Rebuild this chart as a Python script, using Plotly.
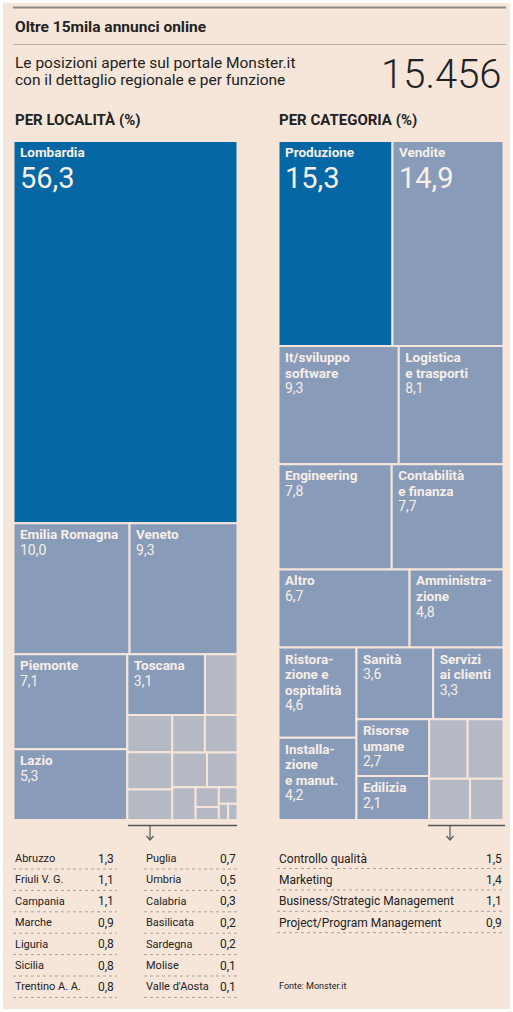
import plotly.graph_objects as go

W, H = 513, 1012

# ---------------- data ----------------
regions = ["Lombardia", "Emilia Romagna", "Veneto", "Piemonte", "Lazio", "Toscana",
           "Abruzzo", "Friuli V. G.", "Campania", "Marche", "Liguria", "Sicilia",
           "Trentino A. A.", "Puglia", "Umbria", "Calabria", "Basilicata", "Sardegna",
           "Molise", "Valle d'Aosta"]
region_values = [56.3, 10.0, 9.3, 7.1, 5.3, 3.1, 1.3, 1.1, 1.1, 0.9, 0.8, 0.8, 0.8,
                 0.7, 0.5, 0.3, 0.2, 0.2, 0.1, 0.1]
region_labels = ["Lombardia", "Emilia Romagna", "Veneto", "Piemonte", "Lazio", "Toscana"]

categories = ["Produzione", "Vendite", "It/sviluppo software", "Logistica e trasporti",
              "Engineering", "Contabilità e finanza", "Altro", "Amministrazione",
              "Ristorazione e ospitalità", "Installazione e manut.", "Sanità",
              "Servizi ai clienti", "Risorse umane", "Edilizia", "Controllo qualità",
              "Marketing", "Business/Strategic Management", "Project/Program Management"]
category_values = [15.3, 14.9, 9.3, 8.1, 7.8, 7.7, 6.7, 4.8, 4.6, 4.2, 3.6, 3.3, 2.7,
                   2.1, 1.5, 1.4, 1.1, 0.9]
category_cell_labels = {
    "Produzione": ["Produzione"], "Vendite": ["Vendite"],
    "It/sviluppo software": ["It/sviluppo", "software"],
    "Logistica e trasporti": ["Logistica", "e trasporti"],
    "Engineering": ["Engineering"],
    "Contabilità e finanza": ["Contabilità", "e finanza"],
    "Altro": ["Altro"], "Amministrazione": ["Amministra-", "zione"],
    "Ristorazione e ospitalità": ["Ristora-", "zione e", "ospitalità"],
    "Installazione e manut.": ["Installa-", "zione", "e manut."],
    "Sanità": ["Sanità"], "Servizi ai clienti": ["Servizi", "ai clienti"],
    "Risorse umane": ["Risorse", "umane"], "Edilizia": ["Edilizia"],
}
big_value_items = ["Lombardia", "Produzione", "Vendite"]
highlight_items = ["Lombardia", "Produzione"]

total_ads = "15.456"

# ---------------- style ----------------
BG = "#f6e6da"
DARK = "#0568a4"
MID = "#889bb9"
GRAY = "#b5b9c4"
CELL_TXT = "#f7efe8"
INK = "#222222"
FONT = "Roboto, Arial, sans-serif"

PAD = "<span style='font-size:14px'>\u00a0</span>"


def fmt(v):
    return f"{v:.1f}".replace(".", ",")


def cell_text(name, lines, v):
    out = "<br>".join(f"{PAD}<span style='font-size:13.5px'><b>{ln}</b></span>" for ln in lines)
    if name in big_value_items:
        out += (f"<br>{PAD}<span style='font-size:3px'>\u00a0</span><br>"
                f"{PAD}<span style='font-size:29px'>{fmt(v)}</span>")
    else:
        out += f"<br>{PAD}<span style='font-size:14px'>{fmt(v)}</span>"
    return out


def px_x(x):
    return x / W


def px_y(y):
    return 1 - y / H


# left treemap
l_text, l_col = [], []
for n, v in zip(regions, region_values):
    if n in region_labels:
        l_text.append(cell_text(n, [n], v))
        l_col.append(DARK if n in highlight_items else MID)
    else:
        l_text.append("")
        l_col.append(GRAY)

r_text, r_col = [], []
for n, v in zip(categories, category_values):
    if n in category_cell_labels:
        r_text.append(cell_text(n, category_cell_labels[n], v))
        r_col.append(DARK if n in highlight_items else MID)
    else:
        r_text.append("")
        r_col.append(GRAY)

TOP, BOT = 141, 820

fig = go.Figure()


def add_tree(labels, values, texts, colors, x0, x1):
    fig.add_trace(go.Treemap(
        labels=labels, parents=[""] * len(labels), values=values,
        text=texts, texttemplate="%{text}", textposition="top left",
        textfont=dict(family=FONT, size=12, color=CELL_TXT),
        marker=dict(colors=colors, line=dict(color=BG, width=2),
                    pad=dict(t=0, l=0, r=0, b=0)),
        tiling=dict(packing="squarify", squarifyratio=1, pad=0),
        pathbar=dict(visible=False), sort=True, hoverinfo="skip",
        domain=dict(x=[px_x(x0), px_x(x1)], y=[px_y(BOT), px_y(TOP)]),
    ))


add_tree(regions, region_values, l_text, l_col, 13.5, 237.5)
add_tree(categories, category_values, r_text, r_col, 278.5, 503.5)

shapes = []
ann = []

# background panel
shapes.append(dict(type="rect", xref="x", yref="y", x0=3, x1=510, y0=3, y1=1009,
                   fillcolor=BG, line=dict(width=0), layer="below"))
shapes.append(dict(type="line", xref="x", yref="y", x0=13, x1=506, y0=7.5, y1=7.5,
                   line=dict(color="#8f8a86", width=2)))
shapes.append(dict(type="line", xref="x", yref="y", x0=13, x1=506, y0=44.5, y1=44.5,
                   line=dict(color="#b9b1aa", width=1)))


def text(x, y, s, size, xanchor="left", weight="normal", color=INK, family=FONT):
    ann.append(dict(xref="x", yref="y", x=x, y=y, text=s, showarrow=False,
                    xanchor=xanchor, yanchor="middle",
                    font=dict(family=family, size=size, color=color, weight=weight)))


text(13, 27, "Oltre 15mila annunci online", 15.5, weight="bold")
text(13, 63, "Le posizioni aperte sul portale Monster.it", 15.5)
text(13, 79.5, "con il dettaglio regionale e per funzione", 15.5)
text(504, 74, total_ads, 40, xanchor="right", weight=300)
text(13, 119.5, "PER LOCALITÀ (%)", 15, weight="bold")
text(277, 119.5, "PER CATEGORIA (%)", 15, weight="bold")

# brackets with arrows
for (bx0, bx1, ax) in [(128, 237, 150), (428, 505, 450)]:
    shapes.append(dict(type="line", xref="x", yref="y", x0=bx0, x1=bx1, y0=825.5, y1=825.5,
                       line=dict(color="#555555", width=1.5)))
    shapes.append(dict(type="line", xref="x", yref="y", x0=ax, x1=ax, y0=825.5, y1=840,
                       line=dict(color="#555555", width=1.2)))
    shapes.append(dict(type="path", xref="x", yref="y",
                       path=f"M {ax-3.5} {836} L {ax} {840} L {ax+3.5} {836}",
                       line=dict(color="#555555", width=1.2)))

# left list
small_regions = [n for n in regions if n not in region_labels]
small_region_vals = [v for n, v in zip(regions, region_values) if n not in region_labels]
ROW0, STEP = 858.5, 21.4
half = (len(small_regions) + 1) // 2
for i, (n, v) in enumerate(zip(small_regions, small_region_vals)):
    col, row = divmod(i, half)
    y = ROW0 + row * STEP
    nx, vx, lx1 = (13, 116, 117) if col == 0 else (144, 238, 238)
    text(nx, y, n, 11)
    text(vx, y, fmt(v), 12, xanchor="right")
    shapes.append(dict(type="line", xref="x", yref="y", x0=nx, x1=lx1, y0=y + 10.5, y1=y + 10.5,
                       line=dict(color="#a8a29c", width=1, dash="dot")))

# right list
small_cats = [n for n in categories if n not in category_cell_labels]
small_cat_vals = [v for n, v in zip(categories, category_values) if n not in category_cell_labels]
for i, (n, v) in enumerate(zip(small_cats, small_cat_vals)):
    y = ROW0 + i * STEP
    text(277, y, n, 12)
    text(504, y, fmt(v), 12, xanchor="right")
    shapes.append(dict(type="line", xref="x", yref="y", x0=277, x1=504, y0=y + 10, y1=y + 10,
                       line=dict(color="#a8a29c", width=1, dash="dot")))

text(277, 986, "Fonte: Monster.it", 9)

fig.update_layout(
    width=W, height=H, margin=dict(l=0, r=0, t=0, b=0),
    paper_bgcolor="white", plot_bgcolor="rgba(0,0,0,0)",
    xaxis=dict(range=[0, W], visible=False, fixedrange=True, domain=[0, 1]),
    yaxis=dict(range=[H, 0], visible=False, fixedrange=True, domain=[0, 1]),
    shapes=shapes, annotations=ann, showlegend=False,
)

fig.write_html("out.html", config={"displayModeBar": False},
               post_script="document.body.style.margin='0px';")
